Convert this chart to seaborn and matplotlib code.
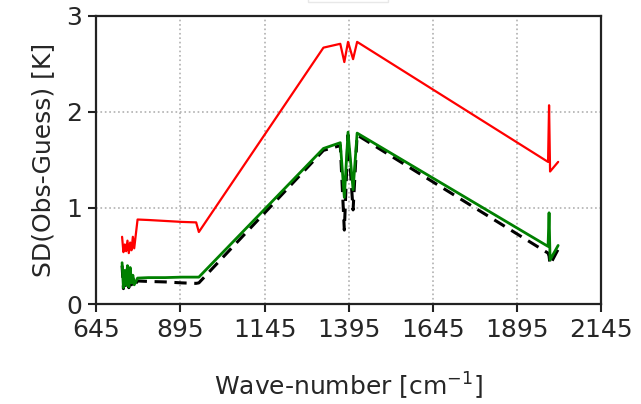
import numpy as np
import pandas as pd
import seaborn as sns
import matplotlib
matplotlib.use("Agg")
import matplotlib.pyplot as plt
from matplotlib.patches import Rectangle

# Channel wave-numbers [cm^-1]
wavenumber = [722, 726, 730, 734, 738, 742, 746, 750, 754, 758, 768, 800, 850, 900,
              942, 950, 1320, 1370, 1382, 1393, 1408, 1420, 1987, 1990, 1993, 2017]

# Standard deviation of observation minus guess [K]
sd_red = [0.70, 0.54, 0.62, 0.55, 0.66, 0.53, 0.64, 0.56, 0.70, 0.58, 0.88, 0.875, 0.865,
          0.855, 0.85, 0.75, 2.67, 2.71, 2.52, 2.73, 2.55, 2.73, 1.48, 2.07, 1.38, 1.48]
sd_green = [0.43, 0.17, 0.35, 0.20, 0.40, 0.18, 0.38, 0.22, 0.30, 0.20, 0.27, 0.275, 0.275,
            0.28, 0.28, 0.28, 1.62, 1.68, 1.11, 1.79, 1.19, 1.78, 0.60, 0.95, 0.46, 0.61]
sd_black = [0.40, 0.16, 0.32, 0.18, 0.37, 0.17, 0.35, 0.20, 0.27, 0.19, 0.24, 0.235, 0.23,
            0.22, 0.215, 0.22, 1.60, 1.65, 0.77, 1.76, 0.98, 1.76, 0.53, 0.50, 0.41, 0.57]

x_ticks = [645, 895, 1145, 1395, 1645, 1895, 2145]
y_ticks = [0, 1, 2, 3]

sns.set_style("ticks")
plt.rcParams["font.family"] = ["DejaVu Sans"]
plt.rcParams["font.size"] = 18

fig = plt.figure(figsize=(6.41, 4.04), dpi=100)
ax = fig.add_axes([0.150, 0.2475, 0.788, 0.713])

df = pd.DataFrame({"wn": wavenumber, "red": sd_red, "green": sd_green, "black": sd_black})

sns.lineplot(data=df, x="wn", y="black", ax=ax, color="black", lw=2.2,
             linestyle=(0, (4, 2.5)), estimator=None, sort=False, zorder=2)
sns.lineplot(data=df, x="wn", y="green", ax=ax, color="green", lw=2.0,
             estimator=None, sort=False, zorder=3)
sns.lineplot(data=df, x="wn", y="red", ax=ax, color="red", lw=1.6,
             estimator=None, sort=False, zorder=4)

ax.set_xlim(645, 2145)
ax.set_ylim(0, 3)
ax.set_xticks(x_ticks)
ax.set_yticks(y_ticks)
ax.set_xticklabels([str(t) for t in x_ticks], fontsize=18)
ax.set_yticklabels([str(t) for t in y_ticks], fontsize=18)
ax.grid(True, linestyle=":", color="#b0b0b0", lw=1.2)
ax.set_axisbelow(True)

for s in ax.spines.values():
    s.set_visible(True)
    s.set_linewidth(1.6)
    s.set_color("#222222")
ax.tick_params(direction="out", length=6, width=1.5, color="#222222", pad=4)

ax.set_xlabel(r"Wave-number [cm$^{-1}$]", fontsize=18, labelpad=21)
ax.set_ylabel("SD(Obs-Guess) [K]", fontsize=18, labelpad=8)

# Legend frame edge peeking in at the top
fig.patches.append(Rectangle((308 / 641, 1 - 2 / 404), 80 / 641, 0.1,
                             transform=fig.transFigure, fill=False,
                             edgecolor="#e8e8e8", lw=1.0))

fig.savefig("out.png", dpi=100)
